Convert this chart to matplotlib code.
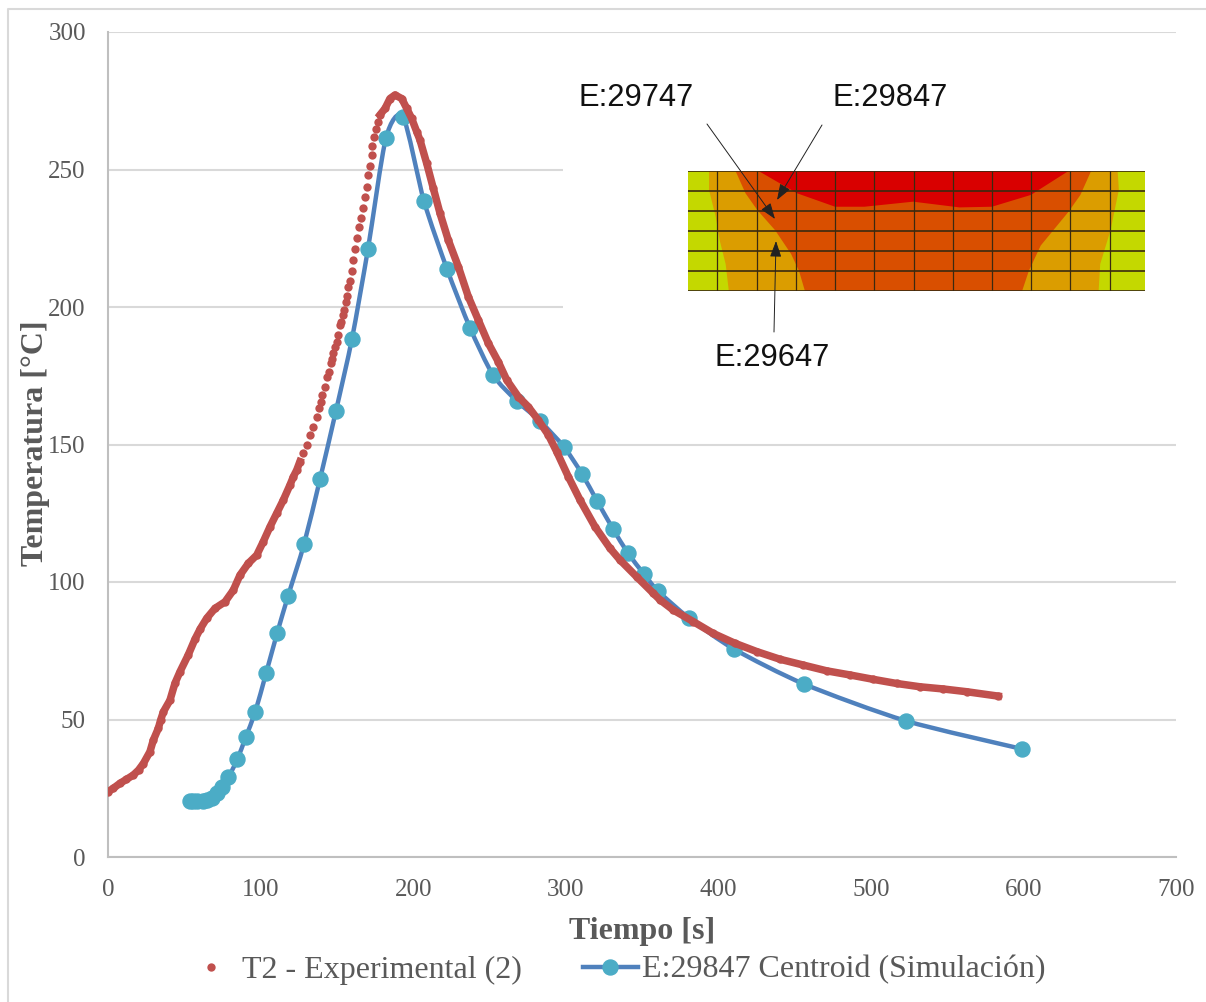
#!/usr/bin/env python3
# Temperatura vs tiempo: experimental T2 against the simulated centroid of E:29847,
# with the mesh detail pasted over the upper right of the plot.

import numpy as np
import matplotlib
matplotlib.use("Agg")
import matplotlib.pyplot as plt
from matplotlib.lines import Line2D
from matplotlib.patches import PathPatch, Polygon, Rectangle
from matplotlib.path import Path

# experimental series
t_exp = [0, 3.5, 7.9, 12, 16.6, 20, 23.2, 27.5, 29.7, 33, 34.5, 36.3, 40.6, 43.9, 47.2, 52.6,
         57, 60.5, 64.7, 70.1, 76.7, 82.1, 86.5, 92, 97.5, 101.8, 106.2, 110.6, 114.9, 119.3,
         121.5, 123.7, 125.8, 128, 130.2, 132.4, 134.6, 136.8, 138.5, 139.4, 140.5, 142.2,
         143.8, 144.8, 145.9, 146.8, 147.7, 149, 149.9, 150.5, 152, 152.7, 153.8, 154.7,
         155.8, 156.9, 157.5, 158.4, 159.6, 160.8, 162, 163.2, 164.4, 165.6, 167, 168.4,
         169.8, 170.6, 171.5, 172.8, 173.2, 174.5, 175.7, 176.8, 178.3, 181.6, 184.8, 188.1,
         192.5, 195.8, 199, 202.3, 204.5, 208.9, 213.2, 217.6, 223, 229.6, 236.2, 242.7,
         249.3, 255.8, 261.3, 268.9, 275.5, 282, 288.6, 294.1, 301.7, 309.4, 319.2, 329,
         335.6, 346.5, 357.4, 361.8, 370.5, 383.6, 396.7, 411, 425.2, 440.5, 455.7, 471,
         486.3, 501.6, 516.9, 532.2, 547.5, 562.8, 583.5]
T_exp = [23.7, 25, 26.8, 28.2, 29.8, 31.6, 34, 38.3, 42.5, 46.8, 49.8, 52.8, 57, 63.2, 67.4, 73.5,
         79.2, 83, 86.8, 90.4, 92.8, 97, 102.5, 106.8, 109.8, 114.7, 120.1, 125, 129.8, 135.3,
         138.3, 140.7, 143.8, 146.8, 149.8, 153.5, 156.5, 160.1, 163.2, 165.6, 168, 171,
         174.7, 176.5, 179.5, 181, 183.2, 185.6, 187.4, 189.8, 193.5, 194.7, 197.1, 198.9,
         201.7, 204.1, 207.1, 209.5, 213, 217, 221, 225, 229, 232.5, 236, 239.9,
         243.5, 247.9, 251.3, 255.3, 258.5, 261.9, 264.6, 267.1, 269.9, 272.2, 275.8, 277.1,
         275.8, 272.2, 268.6, 263.8, 260.7, 252.2, 243.2, 234.1, 224.4, 214.7, 203.7, 195.3,
         186.8, 180.1, 173.5, 167.4, 163.7, 158.9, 153.5, 147.4, 138.3, 129.8, 120.1, 112.3,
         108, 101.9, 95.9, 93.5, 89.8, 85.6, 81.3, 77.7, 74.7, 71.9, 69.8, 67.7,
         66.2, 64.6, 63.1, 61.9, 61.1, 60.1, 58.5]

# simulated series, one value per marker
t_sim = [54, 56, 58.5, 62.3, 65, 68, 71.2, 74.5, 78.9, 84.8, 90.2, 96.4, 103.6, 110.8, 118,
         128.5, 139, 149.4, 159.9, 170.4, 182.2, 193.4, 207.1, 222.2, 237.3, 252.3, 268, 283.2,
         298.9, 310.7, 320.5, 331, 340.8, 351.3, 360.5, 380.8, 410.3, 456.2, 523, 599]
T_sim = [20.2, 20.2, 20.2, 20.2, 20.6, 21.3, 23.2, 25.6, 29, 35.5, 43.5, 52.6, 66.8, 81.3, 94.9,
         113.8, 137.5, 162.2, 188.4, 221.1, 261.5, 269.1, 238.5, 213.8, 192.4, 175.3, 165.8, 158.5,
         149.1, 139.3, 129.5, 119.3, 110.5, 102.9, 96.7, 86.9, 75.6, 62.9, 49.5, 39.3]

x_ticks = [0, 100, 200, 300, 400, 500, 600, 700]
y_ticks = [0, 50, 100, 150, 200, 250, 300]

# mesh detail: temperature bands and grid, in the detail's own units
band_amber = [(378, 334), (378, 390), (395, 470), (405, 540), (420, 610), (428, 690), (1361, 690),
              (1365, 610), (1391, 510), (1412, 390), (1409, 334)]
band_orange = [(445, 334), (470, 400), (500, 450), (545, 510), (585, 580), (605, 630), (620, 690),
               (1168, 690), (1185, 630), (1215, 555), (1285, 455), (1315, 405), (1342, 334)]
band_red = [(503, 334), (600, 400), (696, 440), (770, 440), (893, 425), (1010, 442), (1092, 440),
            (1190, 405), (1285, 334)]
mesh_x = [399, 498, 597, 696, 795, 894, 993, 1092, 1191, 1290, 1390]
mesh_y = [334, 393, 453, 512, 571, 631, 690]

W, H = 1206, 1002
GRID = "#D9D9D9"
TXT = "#595959"
RED = "#C0504D"
BLUE = "#4F81BD"
TEAL = "#4BACC6"
SERIF = "Liberation Serif"


def smooth_path(xs, ys, k=1 / 8):
    """Bezier through the points, the way a spreadsheet's smoothed line does it."""
    p = np.column_stack([xs, ys])
    # repeat the ends so every point has two neighbours
    q = np.vstack([p[0], p, p[-1]])
    verts, codes = [p[0]], [Path.MOVETO]
    for i in range(1, len(q) - 2):
        verts += [q[i] + k * (q[i + 1] - q[i - 1]), q[i + 1] - k * (q[i + 2] - q[i]), q[i + 1]]
        codes += [Path.CURVE4] * 3
    return Path(verts, codes)


fig = plt.figure(figsize=(W / 100, H / 100), dpi=100, facecolor="white")
ax = fig.add_axes([108 / W, 1 - 857 / H, (1176 - 108) / W, (857 - 32) / H])

t_arr, T_arr = np.array(t_exp), np.array(T_exp)
dense = (t_arr < 128) | (t_arr > 178)
ax.add_patch(PathPatch(smooth_path(t_sim, T_sim), fc="none", ec=BLUE, lw=3.2, zorder=3))
ax.plot(t_sim, T_sim, "o", ms=10.8, mfc=TEAL, mec=TEAL, zorder=3)
# the logger dots merge into a band except on the steep rise
ax.plot(t_arr, np.where(dense, T_arr, np.nan), "-", color=RED, lw=5.4, zorder=4)
ax.plot(t_arr, T_arr, "o", color=RED, ms=6.0, mew=0, zorder=4)

ax.set_xlim(0, 700)
ax.set_ylim(0, 300)
ax.set_xticks(x_ticks)
ax.set_yticks(y_ticks)
ax.grid(axis="y", color=GRID, lw=1.5)
ax.set_axisbelow(True)
for s in ("top", "right"):
    ax.spines[s].set_visible(False)
for s in ("left", "bottom"):
    ax.spines[s].set_color("#BFBFBF")
    ax.spines[s].set_linewidth(1.5)
ax.tick_params(length=0, pad=16, labelsize=18, labelcolor=TXT)
for lab in ax.get_xticklabels() + ax.get_yticklabels():
    lab.set_family(SERIF)

ax.set_xlabel("Tiempo [s]", family=SERIF, weight="bold", size=23, color=TXT, va="center")
ax.set_ylabel("Temperatura [°C]", family=SERIF, weight="bold", size=23, color=TXT, va="center")
ax.xaxis.set_label_coords(0.5, -74 / 825)
ax.yaxis.set_label_coords(-72 / 1068, 0.502)

handles = [Line2D([], [], ls="none", marker="o", ms=6.0, color=RED, mew=0),
           Line2D([], [], color=BLUE, lw=3.2, marker="o", ms=10.8, mfc=TEAL, mec=TEAL)]
ax.legend(handles, ["T2 - Experimental (2)", "E:29847 Centroid (Simulación)"],
          loc="center", bbox_to_anchor=(0.5 - 28 / 1068, -113 / 825), ncol=2, frameon=False,
          numpoints=1, handlelength=1.75, handletextpad=0.1, columnspacing=1.9,
          prop={"family": SERIF, "size": 23}, labelcolor=TXT, borderpad=0)

# overlay in picture pixels: outer frame, pasted image background, annotation text
over = fig.add_axes([0, 0, 1, 1], facecolor="none")
over.set_xlim(0, W)
over.set_ylim(H, 0)
over.axis("off")
over.plot([8, 8, W], [H, 9, 9], color=GRID, lw=1.5, clip_on=False)
over.add_patch(Rectangle((563, 60), 620, 318, fc="white", ec="none"))

detail = fig.add_axes([688 / W, 1 - 291 / H, (1145 - 688) / W, (291 - 171) / H])
detail.set_xlim(325, 1478)
detail.set_ylim(690, 334)
detail.axis("off")
detail.add_patch(Rectangle((325, 334), 1153, 356, fc="#C4D800", ec="none"))
detail.add_patch(Polygon(band_amber, fc="#DB9D00", ec="none"))
detail.add_patch(Polygon(band_orange, fc="#D94F00", ec="none"))
detail.add_patch(Polygon(band_red, fc="#D90000", ec="none"))
for v in mesh_x:
    detail.plot([v, v], [334, 690], color="#3A2A10", lw=0.9)
for v in mesh_y:
    detail.plot([325, 1478], [v, v], color="#3A2A10", lw=1.2)

over2 = fig.add_axes([0, 0, 1, 1], facecolor="none")
over2.set_xlim(0, W)
over2.set_ylim(H, 0)
over2.axis("off")
for label, cx, cy in [("E:29747", 636, 98), ("E:29847", 890, 98), ("E:29647", 772, 358)]:
    over2.text(cx, cy, label, family="Liberation Sans", size=22.2, color="#111111",
               ha="center", va="center")
for start, tip in [((707, 124), (775, 219)), ((822, 125), (777, 200)), ((774, 332), (776, 241))]:
    over2.annotate("", xy=tip, xytext=start,
                   arrowprops=dict(arrowstyle="-|>,head_length=0.7,head_width=0.25",
                                   mutation_scale=14, color="#222222", lw=0.7,
                                   shrinkA=0, shrinkB=0))

fig.savefig("out.png", dpi=100)
plt.close(fig)
